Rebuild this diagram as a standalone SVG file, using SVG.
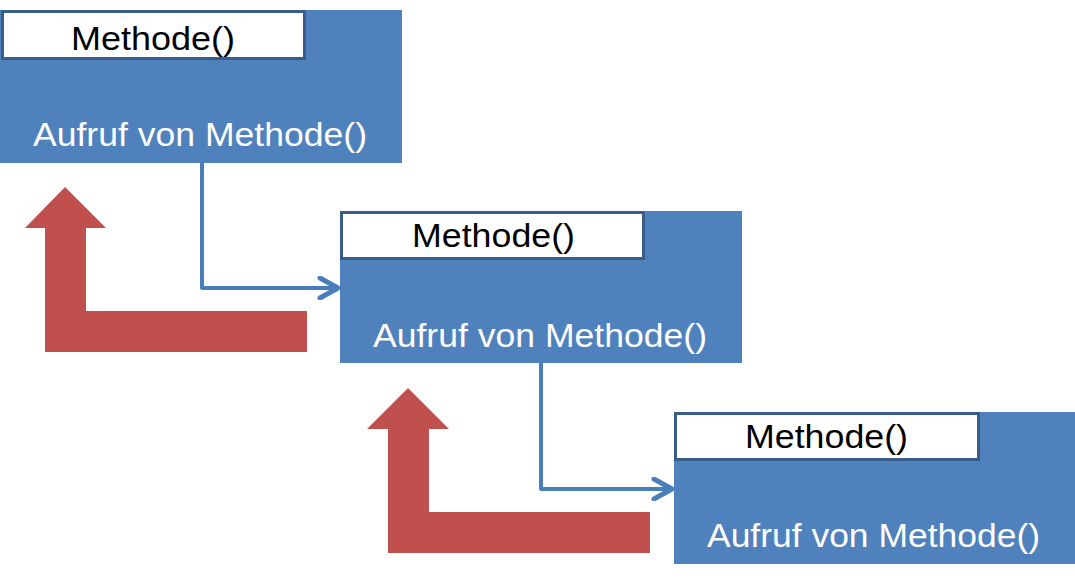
<svg xmlns="http://www.w3.org/2000/svg" width="1075" height="581" viewBox="0 0 1075 581">
<style>
.box{fill:#4F81BD}
.lbl{fill:#FFFFFF;stroke:#385D8A;stroke-width:3}
.t1{font-family:"Liberation Sans",Arial,sans-serif;font-size:34px;fill:#000000}
.t2{font-family:"Liberation Sans",Arial,sans-serif;font-size:34px;fill:#FFFFFF}
.red{fill:#C0504D}
.con{fill:none;stroke:#4A7EBB;stroke-width:4;stroke-linejoin:round}
</style>
<defs>
<marker id="chev" markerUnits="userSpaceOnUse" viewBox="0 0 24 24" refX="21" refY="12" markerWidth="24" markerHeight="24" orient="auto">
<path d="M3 2 L21 12 L3 22" fill="none" stroke="#4A7EBB" stroke-width="5" stroke-linecap="round" stroke-linejoin="round"/>
</marker>
</defs>
<rect width="1075" height="581" fill="#FFFFFF"/>
<g id="red-arrows">
<polygon class="red" points="65,187 106,228 86,228 86,311 307,311 307,352 45,352 45,228 25,228"/>
<polygon class="red" points="408,388 449,429 429,429 429,512 650,512 650,553 388,553 388,429 367,429"/>
</g>
<g id="connectors">
<path class="con" d="M202 163 V288 H338" marker-end="url(#chev)"/>
<path class="con" d="M541 363 V489 H672" marker-end="url(#chev)"/>
</g>
<g id="node1">
<rect class="box" x="0" y="10" width="402" height="153"/>
<rect class="lbl" x="2.5" y="11.5" width="302" height="47"/>
<text class="t1" x="71" y="50" textLength="164" lengthAdjust="spacingAndGlyphs">Methode()</text>
<text class="t2" x="33" y="146" textLength="334" lengthAdjust="spacingAndGlyphs">Aufruf von Methode()</text>
</g>
<g id="node2">
<rect class="box" x="340" y="211" width="402" height="152"/>
<rect class="lbl" x="341.5" y="212.5" width="302" height="46"/>
<text class="t1" x="412" y="247" textLength="163" lengthAdjust="spacingAndGlyphs">Methode()</text>
<text class="t2" x="373" y="347" textLength="334" lengthAdjust="spacingAndGlyphs">Aufruf von Methode()</text>
</g>
<g id="node3">
<rect class="box" x="674" y="412" width="401" height="152"/>
<rect class="lbl" x="675.5" y="413.5" width="303" height="46"/>
<text class="t1" x="745" y="448" textLength="163" lengthAdjust="spacingAndGlyphs">Methode()</text>
<text class="t2" x="707" y="547" textLength="333" lengthAdjust="spacingAndGlyphs">Aufruf von Methode()</text>
</g>
</svg>
